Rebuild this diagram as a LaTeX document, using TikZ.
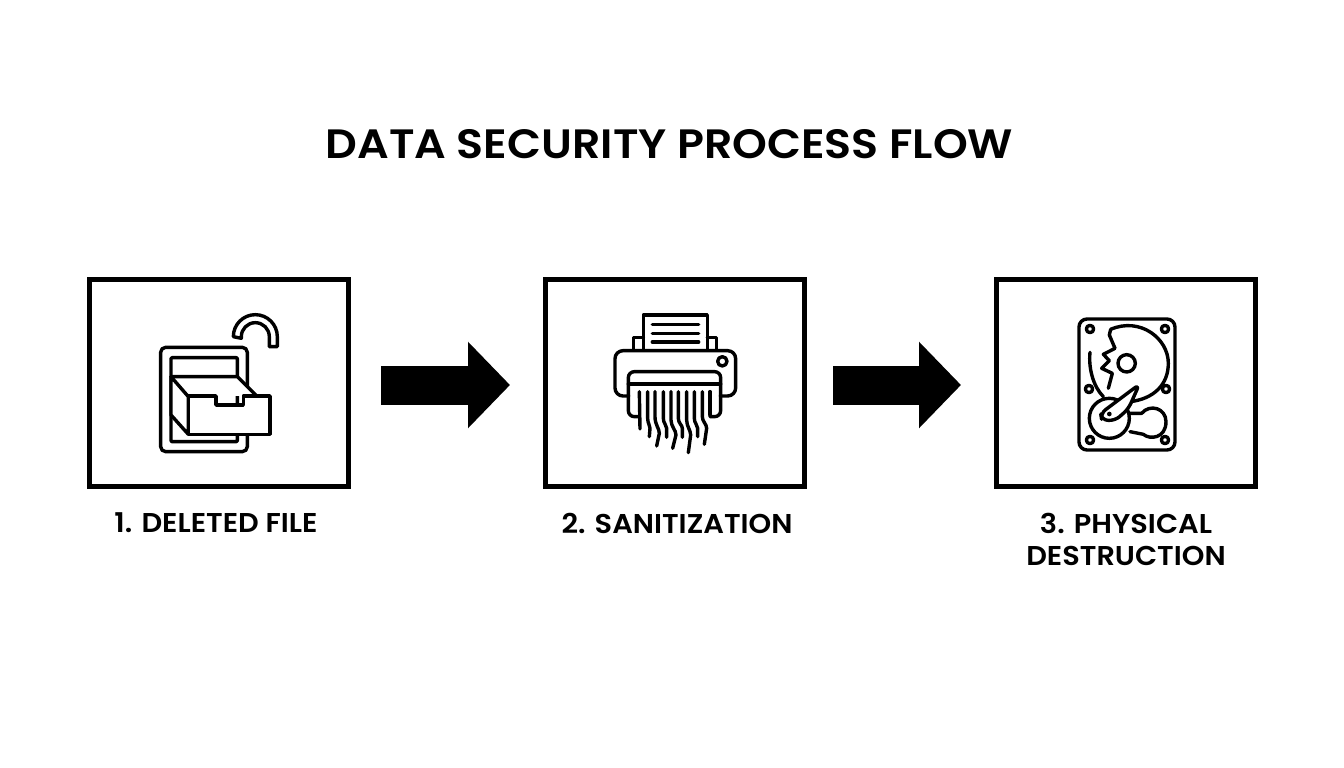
\documentclass[tikz,border=0pt]{standalone}
\usepackage{fontspec}
\setmainfont{Poppins}
\newfontfamily\ttl[FakeStretch=1.08]{Poppins SemiBold}
\newfontfamily\lbl[FakeStretch=1.06]{Poppins SemiBold}
\usetikzlibrary{arrows.meta}
\tikzset{
  stepbox/.style={draw=black,line width=5pt,minimum width=259pt,minimum height=207pt,inner sep=0pt},
  flow/.style={line width=39pt,-{Triangle[length=42pt,width=84pt]}},
  steplabel/.style={font=\lbl\fontsize{27.2}{32}\selectfont,align=center,text=black},
  icon/.style={line width=3.4pt,line join=round,line cap=round,black},
}
\begin{document}
\begin{tikzpicture}[x=1pt,y=-1pt]
\useasboundingbox (0,0) rectangle (1344,768);
\node[font=\ttl\fontsize{41}{48}\selectfont] (title) at (669.5,144) {DATA SECURITY PROCESS FLOW};
\node[stepbox] (b1) at (219,383) {};
\node[stepbox] (b2) at (675,383) {};
\node[stepbox] (b3) at (1126,383) {};
\node[steplabel] (l1) at (216,523) {1. DELETED FILE};
\node[steplabel] (l2) at (677,523) {2. SANITIZATION};
\node[steplabel] (l3) at (1126,539) {3. PHYSICAL\\DESTRUCTION};
\draw[flow,shorten <=30pt,shorten >=33pt] ([yshift=-2pt]b1.east) -- ([yshift=-2pt]b2.west);
\draw[flow,shorten <=26pt,shorten >=33pt] ([yshift=-2pt]b2.east) -- ([yshift=-2pt]b3.west);
% file icon
\begin{scope}[shift={(140,300)},x=.3333pt,y=-.3333pt,icon]
\draw[rounded corners=5pt] (62,142) rectangle (322,455);
\draw[rounded corners=1pt] (93,173) rectangle (292,425);
\fill[white] (93,230) -- (292,230) -- (350,288) -- (145,288) -- cycle;
\draw (93,230) -- (292,230) -- (350,288);
\draw[fill=white] (93,230) -- (145,290) -- (145,403) -- (93,345) -- cycle;
\draw[fill=white] (145,288) -- (228,288) -- (228,315) -- (310,315) -- (310,288) -- (390,288) -- (390,403) -- (145,403) -- cycle;
\draw (280,110) arc[start angle=180,end angle=360,radius=66] -- (412,140) -- (388,140) -- (388,110) arc[start angle=360,end angle=180,radius=42] -- (304,115) -- cycle;
\end{scope}
% shredder icon
\begin{scope}[shift={(600,300)},x=.3333pt,y=-.3333pt,icon]
\draw (130,150) -- (130,45) -- (322,45) -- (322,150);
\draw (157,73) -- (296,73) (157,100) -- (296,100) (157,126) -- (296,126);
\draw (130,112) -- (100,112) -- (100,150) (322,112) -- (350,112) -- (350,150);
\draw[rounded corners=8pt] (85,288) -- (45,288) -- (45,152) -- (407,152) -- (407,288) -- (362,288);
\draw[rounded corners=6pt] (85,290) -- (85,215) -- (362,215) -- (362,290);
\draw[rounded corners=6pt] (85,285) -- (85,350) -- (115,350);
\draw[rounded corners=6pt] (362,285) -- (362,350) -- (330,350);
\draw (85,252) -- (362,252);
\draw (367,184) circle[radius=14];
\draw (118,275) -- (120,387);
\draw (143,275) -- (143,355) .. controls (143,370) and (150,375) .. (150,385) -- (148,410);
\draw (165,275) -- (165,350) .. controls (165,375) and (178,385) .. (178,400) -- (170,438);
\draw (190,275) -- (190,355) .. controls (190,370) and (200,375) .. (200,385) -- (200,412);
\draw (213,275) -- (213,360) .. controls (213,380) and (228,390) .. (228,405) -- (218,445);
\draw (235,275) -- (235,355) .. controls (235,370) and (247,375) .. (247,385) -- (247,412);
\draw (260,275) -- (260,360) .. controls (260,380) and (272,390) .. (272,405) -- (265,458);
\draw (283,275) -- (283,355) .. controls (283,370) and (293,375) .. (293,385) -- (293,410);
\draw (307,275) -- (307,350) .. controls (307,365) and (320,372) .. (320,385) -- (313,433);
\draw (330,275) -- (330,345);
\end{scope}
% disk icon
\begin{scope}[shift={(1060,305)},x=.3333pt,y=-.3333pt,icon]
\draw[rounded corners=8pt] (57,42) rectangle (345,435);
\foreach \p in {(90,72),(315,72),(87,252),(318,252),(90,405),(315,405)}
  \draw \p circle[radius=11];
\draw (152,73) .. controls (240,35) and (325,100) .. (325,175) .. controls (325,240) and (280,282) .. (210,290);
\draw (90,142) .. controls (85,190) and (100,245) .. (130,275);
\draw (152,73) -- (148,90) -- (165,130) -- (130,148) -- (148,167) -- (125,190) -- (157,205) -- (145,250);
\draw (200,175) circle[radius=26];
\draw (148,340) circle[radius=60];
\draw[fill=white,rounded corners=6pt] (122,325) -- (238,238) -- (205,312) -- (165,347) -- (125,345) -- cycle;
\fill (148,327) circle[radius=7];
\draw (207,325) -- (245,325) .. controls (270,295) and (318,310) .. (318,350) .. controls (318,400) and (270,405) .. (250,388) -- (210,380);
\end{scope}
\end{tikzpicture}
\end{document}
